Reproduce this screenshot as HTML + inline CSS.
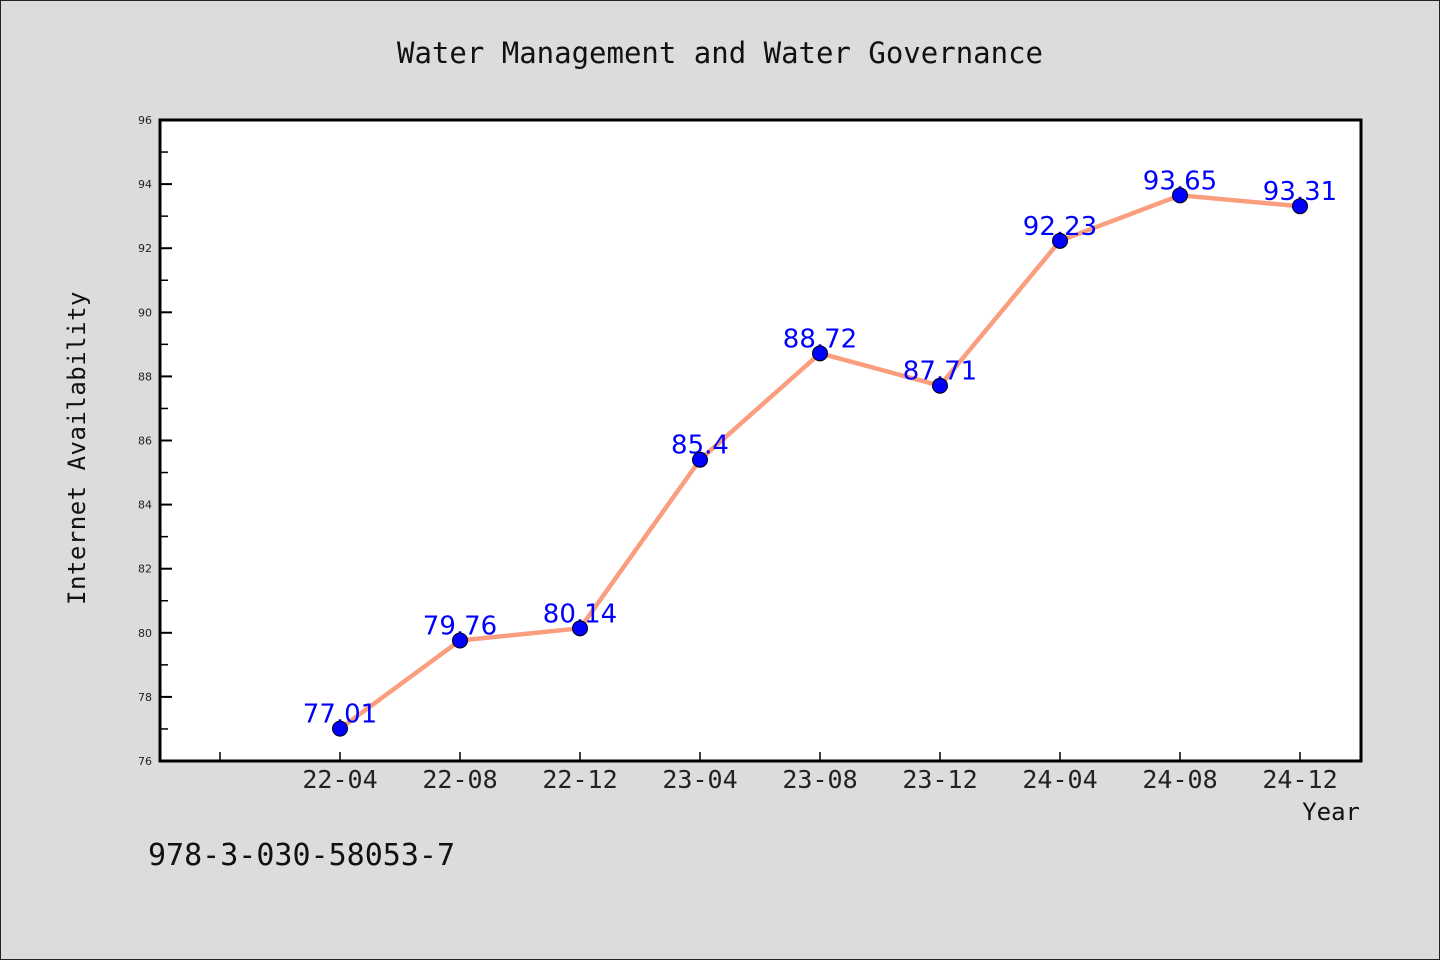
<!DOCTYPE html>
<html><head><meta charset="utf-8"><style>
html,body{margin:0;padding:0;background:#dcdcdc;}
svg{display:block;font-family:"DejaVu Sans Mono","Liberation Mono",monospace;}
</style></head><body>
<svg id="chart" width="1440" height="960" viewBox="0 0 1440 960">
<rect x="0.5" y="0.5" width="1439" height="959" fill="#dcdcdc" stroke="#222"/>
<text x="720" y="63" text-anchor="middle" font-size="29" fill="#111">Water Management and Water Governance</text>
<rect x="160" y="120" width="1201" height="641" fill="#fff"/>
<g id="axes"></g>
<g id="series"></g>
<rect x="160" y="120" width="1201" height="641" fill="none" stroke="#000" stroke-width="3"/>
<text transform="translate(85,448) rotate(-90)" text-anchor="middle" font-size="24" fill="#111" letter-spacing="0.5">Internet Availability</text>
<text x="1360" y="820" text-anchor="end" font-size="24" fill="#111">Year</text>
<text x="148" y="865" font-size="30" fill="#111">978-3-030-58053-7</text>
</svg>
<script>
const categories = ["22-04","22-08","22-12","23-04","23-08","23-12","24-04","24-08","24-12"];
const values = [77.01,79.76,80.14,85.4,88.72,87.71,92.23,93.65,93.31];
const valueLabels = ["77.01","79.76","80.14","85.4","88.72","87.71","92.23","93.65","93.31"];
const yTicks = [76,78,80,82,84,86,88,90,92,94,96];
const NS = "http://www.w3.org/2000/svg";
const yMin = 76, yMax = 96, plotTop = 120, plotBottom = 761;
function yScale(v){ return plotBottom - (v - yMin) / (yMax - yMin) * (plotBottom - plotTop); }
function xScale(i){ return 340 + 120 * i; }
function mk(tag, attrs, parent){ const e = document.createElementNS(NS, tag); for (const k in attrs) e.setAttribute(k, attrs[k]); parent.appendChild(e); return e; }
const axes = document.getElementById("axes");
const series = document.getElementById("series");
yTicks.forEach(t => {
  const y = yScale(t);
  const tk = mk("line", {x1:160, x2:172, y1:y, y2:y, stroke:"#000", "stroke-width":2}, axes);
  
  
  const lb = mk("text", {x:152, y:y+4, "text-anchor":"end", "font-size":11, fill:"#222", "font-family":"'DejaVu Sans',sans-serif"}, axes);
  lb.textContent = t;
  
  
  if (t < yMax) {
    const ym = yScale(t + 1);
    const mt = mk("line", {x1:160, x2:168, y1:ym, y2:ym, stroke:"#000", "stroke-width":1.5}, axes);
    
    
  }
});
for (let i = -1; i < categories.length; i++) {
  const x = xScale(i);
  const tk = mk("line", {x1:x, x2:x, y1:761, y2:752, stroke:"#000", "stroke-width":1.5}, axes);
  
  
  if (i >= 0) {
    const lb = mk("text", {x:x, y:788, "text-anchor":"middle", "font-size":25, fill:"#222"}, axes);
    lb.textContent = categories[i];
    
    
  }
}
const pts = values.map((v,i) => xScale(i) + "," + yScale(v)).join(" ");
const line = mk("polyline", {points:pts, fill:"none", stroke:"#fa9e7e", "stroke-width":4.5, "stroke-linejoin":"round"}, series);


values.forEach((v,i) => {
  const lb = mk("text", {x:xScale(i), y:yScale(v)-6, "text-anchor":"middle", "font-size":26, fill:"#0000ff", "font-family":"'DejaVu Sans',sans-serif"}, series);
  lb.textContent = valueLabels[i];
  
  
});
values.forEach((v,i) => {
  const c = mk("circle", {cx:xScale(i), cy:yScale(v), r:7.5, fill:"#0000ff", stroke:"#000", "stroke-width":1}, series);
  
  
});
</script>
</body></html>
